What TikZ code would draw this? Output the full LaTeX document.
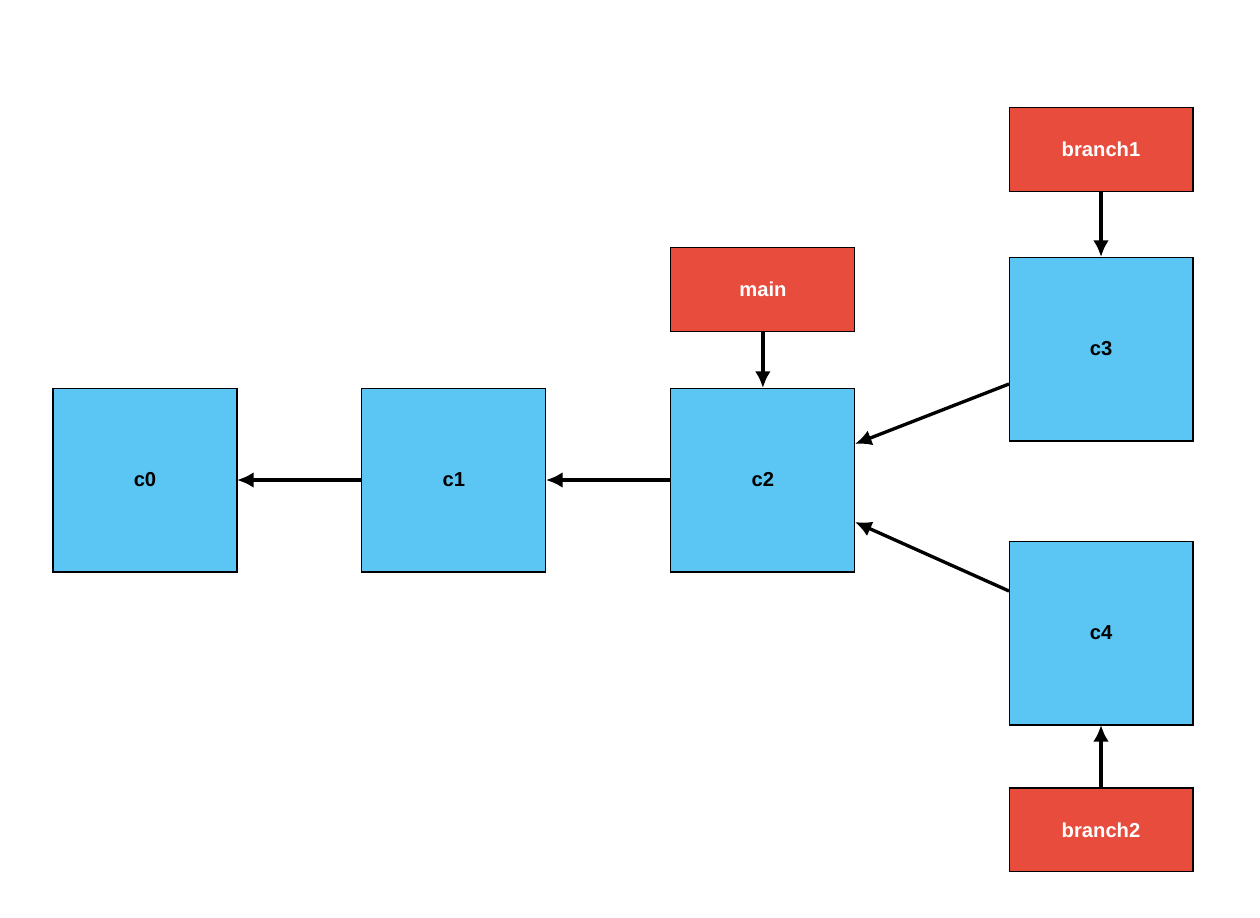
\documentclass[tikz,border=0pt]{standalone}
\usepackage{fontspec}
\setmainfont{Liberation Sans}
\usetikzlibrary{positioning, arrows.meta}
\definecolor{commitblue}{HTML}{5BC5F4}
\definecolor{refred}{HTML}{E74C3C}
\begin{document}
\begin{tikzpicture}[x=0.02cm, y=-0.02cm, >={Latex[length=9.5pt, width=9pt]}, line width=1.9pt, font=\bfseries\fontsize{11.5}{13}\selectfont]
	\tikzstyle{commit} = [rectangle, draw=black, line width=0.6pt, outer sep=0pt, fill=commitblue, minimum width=3.68cm, minimum height=3.68cm, text centered]
	\tikzstyle{ref} = [rectangle, draw=black, line width=0.6pt, outer sep=0pt, fill=refred, text=white, minimum width=3.68cm, minimum height=1.68cm, text centered]
	\useasboundingbox (0,0) rectangle (1260,917);
	% commits
	\node (c0) [commit] at (145,480) {c0};
	\node (c1) [commit, right=2.5cm of c0] {c1};
	\node (c2) [commit, right=2.5cm of c1] {c2};
	\node (c3) [commit] at (1101,349) {c3};
	\node (c4) [commit] at (1101,633) {c4};
	% branches
	\node (main) [ref, above=1.14cm of c2] {main};
	\node (branch1) [ref, above=1.32cm of c3] {branch1};
	\node (branch2) [ref, below=1.26cm of c4] {branch2};
	\draw[->] (c1) -- (c0);
	\draw[->] (c2) -- (c1);
	\draw[->] ([yshift=-0.7cm]c3.west) -- ([yshift=0.72cm]c2.east);
	\draw[->] ([yshift=0.84cm]c4.west) -- ([yshift=-0.84cm]c2.east);
	\draw[->] (main) -- (c2);
	\draw[->] (branch1) -- (c3);
	\draw[->] (branch2) -- (c4);
\end{tikzpicture}
\end{document}
